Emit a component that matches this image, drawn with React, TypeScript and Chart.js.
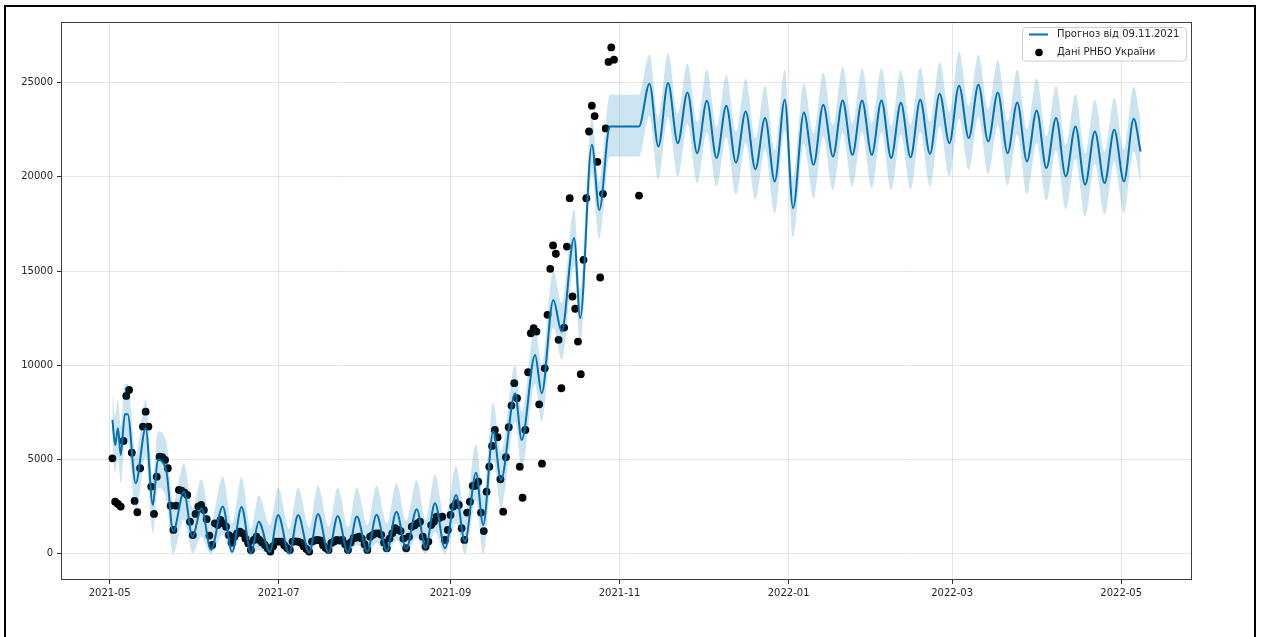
import React, { useEffect, useRef } from 'react';
import { Chart, registerables } from 'chart.js';

Chart.register(...registerables);

// Day offsets are counted from 2021-05-01 (UTC).
const EPOCH = Date.UTC(2021, 4, 1);
const dayOf = (iso: string) => (Date.parse(iso + 'T00:00:00Z') - EPOCH) / 86400000;

// Axis ranges and ticks
const xRange = [-17.55, 390.55];
const yRange = [-1397, 28221];
const xTickDates = ['2021-05-01', '2021-07-01', '2021-09-01', '2021-11-01', '2022-01-01', '2022-03-01', '2022-05-01'];
const xTickLabels = ['2021-05', '2021-07', '2021-09', '2021-11', '2022-01', '2022-03', '2022-05'];
const yTickValues = [0, 5000, 10000, 15000, 20000, 25000];

// Legend entries
const legendLabels = ['Прогноз від 09.11.2021', 'Дані РНБО України'];

// Daily reported cases, one value per day from casesStartDate
const casesStartDate = '2021-05-02';
const dailyCases = [
  5060, 2760, 2640, 2500, 5985, 8375, 8690, 5360, 2800, 2200,
  4535, 6745, 7540, 6745, 3560, 2110, 4090, 5150, 5120, 4975,
  4535, 2550, 1260, 2550, 3380, 3350, 3240, 3120, 1700, 990,
  2110, 2500, 2590, 2320, 1830, 960, 460, 1610, 1520, 1790,
  1610, 1430, 990, 580, 900, 1080, 1170, 1080, 800, 550,
  200, 730, 900, 730, 600, 460, 290, 110, 400, 640,
  640, 640, 450, 300, 200, 640, 650, 640, 580, 400,
  250, 110, 640, 700, 730, 700, 450, 300, 200, 570,
  650, 730, 700, 730, 500, 200, 600, 820, 850, 900,
  800, 500, 200, 900, 1000, 1080, 1080, 1000, 600, 290,
  800, 1080, 1350, 1260, 1200, 800, 290, 900, 1430, 1500,
  1610, 1700, 900, 370, 640, 1520, 1700, 1960, 1900, 1965,
  728, 1260, 2055, 2500, 2680, 2590, 1350, 728, 2180, 2760,
  3600, 3600, 3820, 2180, 1200, 3290, 4620, 5720, 6570, 6180,
  3950, 2230, 5120, 6710, 7860, 9050, 8250, 4620, 2970, 6570,
  9630, 11700, 11970, 11790, 7930, 4780, 9840, 12680, 15120, 16360,
  15920, 11350, 8780, 12000, 16300, 18870, 13650, 13000, 11260, 9530,
  15600, 18870, 22410, 23780, 23230, 20800, 14660, 19100, 22570, 26100,
  26870, 26220,
];
const lateReportDate = '2021-11-08';
const lateReportCases = 19010;

// Forecast turning points (weekly lows and highs), days since 2021-05-01
const forecastDays = [
  1, 2, 3, 4, 5.5, 6.5,
  9.4, 13, 15.6, 17.4, 20.5,
  22.9, 26.8, 29.9, 33.1, 36.6, 40.8,
  44.2, 47.6, 51, 53.8, 57.8, 60.8,
  64.8, 68, 72, 75.2, 79, 82.3,
  86, 89.2, 93, 96.3, 100, 103.5,
  107, 110.8, 114, 117.4, 121, 125,
  128.2, 132.2, 134.8, 138.4, 141.2, 146.3,
  148.7, 153.5, 155.9, 160.1, 163.1, 167.6,
  169.8, 174, 176.7, 180.5, 191,
  194.8, 198, 201.5, 205, 208.5, 212, 215.5, 219, 222.5, 226,
  229.5, 233, 236.5, 240, 243.6, 246.6, 250.5, 254, 257.5, 261,
  264.5, 268, 271.5, 275, 278.5, 282, 285.5, 289, 292.5, 296,
  299.5, 303, 306.5, 310, 313.5, 317, 320.5, 324, 327.5, 331,
  334.5, 338, 341.5, 345, 348.5, 352, 355.5, 359, 362.5, 366,
  369.5, 372,
];
const forecastMid = [
  7100, 5770, 6660, 5240, 7400, 7400,
  3740, 6660, 2590, 4980, 4355,
  1170, 3290, 900, 2410, 200, 2500,
  100, 2480, 0, 1700, 100, 2050,
  0, 2050, 50, 2100, 50, 2000,
  50, 1970, 100, 2060, 150, 2230,
  250, 2360, 300, 2680, 290, 3120,
  640, 4300, 1520, 6480, 3910, 8520,
  6040, 10550, 8520, 13470, 11790, 16750,
  12500, 21700, 18240, 22680, 22680,
  24950, 21610, 24980, 21790, 24480, 21260, 24040, 21000, 23780, 20760,
  23470, 20410, 23120, 19760, 24090, 18340, 23420, 20640, 23830, 21080,
  24060, 21170, 24060, 21170, 24060, 21000, 23930, 21040, 24090, 21220,
  24410, 21790, 24840, 22060, 24890, 21880, 24480, 21260, 23950, 20820,
  23530, 20470, 23120, 20020, 22680, 19580, 22410, 19670, 22500, 19760,
  23080, 21350,
];
const forecastLow = [
  5600, 4270, 5150, 3700, 5900, 5900,
  2230, 5150, 1100, 3480, 2850,
  0, 1800, 0, 900, 0, 1000,
  0, 950, 0, 200, 0, 550,
  0, 550, 0, 600, 0, 500,
  0, 450, 0, 550, 0, 700,
  0, 850, 0, 1150, 0, 1600,
  0, 2800, 0, 5000, 2400, 7000,
  4500, 9000, 7000, 12000, 10300, 15250,
  11000, 20200, 16700, 21080, 21080,
  23250, 19850, 23210, 20020, 22800, 19670, 22350, 19490, 22100, 19050,
  21800, 18820, 21450, 18080, 22450, 16830, 21750, 18870, 22150, 19310,
  22350, 19490, 22380, 19400, 22380, 19300, 22250, 19350, 22400, 19500,
  22700, 20050, 23100, 20350, 23200, 20150, 22750, 19550, 22250, 19100,
  21800, 18750, 21400, 18300, 20950, 17900, 20700, 17990, 20800, 18080,
  21350, 19670,
];
const forecastHigh = [
  8600, 7300, 8200, 6750, 9000, 9000,
  5250, 8160, 4100, 6500, 5900,
  2700, 4800, 2450, 3950, 1750, 4090,
  1600, 4050, 1300, 3100, 1500, 3500,
  1300, 3500, 1400, 3600, 1400, 3500,
  1400, 3500, 1500, 3600, 1600, 3750,
  1750, 3900, 1800, 4200, 1800, 4650,
  2150, 5800, 3050, 8000, 5400, 10000,
  7550, 12050, 10000, 15000, 13300, 18250,
  14000, 23200, 19750, 24360, 24360,
  26500, 23150, 26570, 23350, 26000, 22900, 25690, 22650, 25420, 22400,
  25190, 22050, 24840, 21400, 25690, 20000, 24980, 22300, 25530, 22750,
  25860, 22850, 25760, 22850, 25760, 22700, 25650, 22750, 25800, 22900,
  26100, 23450, 26660, 23750, 26480, 23600, 26200, 22950, 25700, 22500,
  25250, 22150, 24850, 21700, 24400, 21250, 24100, 21350, 24200, 21450,
  24800, 23050,
];

const LINE_BLUE = '#0072B2';
const BAND_BLUE = 'rgba(0, 114, 178, 0.2)';
const FONT = '"DejaVu Sans", "Liberation Sans", sans-serif';
const TEXT = '#262626';

const toPoints = (ys: number[]) => forecastDays.map((d, i) => ({ x: d, y: ys[i] }));

const overlayPlugin = {
  id: 'axesFrameAndLegend',
  afterDraw(chart: any) {
    const { ctx, chartArea: a } = chart;
    ctx.save();
    // four spines around the plotting area
    ctx.strokeStyle = '#3c3c3c';
    ctx.lineWidth = 1;
    ctx.strokeRect(Math.round(a.left) + 0.5, Math.round(a.top) + 0.5,
      Math.round(a.right - a.left) - 1, Math.round(a.bottom - a.top) - 1);

    // legend box in the upper right corner
    ctx.font = `10px ${FONT}`;
    const tw = Math.max(...legendLabels.map((t) => ctx.measureText(t).width));
    const w = Math.max(164, 34.5 + tw + 4);
    const right = Math.round(a.right) - 5.5;
    const top = Math.round(a.top) + 5.5;
    const left = right - w;
    const h = 33.5;
    ctx.beginPath();
    (ctx as any).roundRect(left, top, w, h, 3);
    ctx.fillStyle = 'rgba(255,255,255,0.85)';
    ctx.fill();
    ctx.strokeStyle = '#cccccc';
    ctx.stroke();

    const row1 = top + 7;
    const row2 = top + 25;
    ctx.strokeStyle = LINE_BLUE;
    ctx.lineWidth = 2;
    ctx.beginPath();
    ctx.moveTo(left + 6.5, row1);
    ctx.lineTo(left + 25.5, row1);
    ctx.stroke();
    ctx.fillStyle = '#000';
    ctx.beginPath();
    ctx.arc(left + 16.5, row2, 3.8, 0, Math.PI * 2);
    ctx.fill();

    ctx.fillStyle = TEXT;
    ctx.textBaseline = 'middle';
    ctx.textAlign = 'left';
    ctx.fillText(legendLabels[0], left + 34.5, row1);
    ctx.fillText(legendLabels[1], left + 34.5, row2);
    ctx.restore();
  },
};

export default function App() {
  const canvasRef = useRef<HTMLCanvasElement>(null);

  useEffect(() => {
    const start = dayOf(casesStartDate);
    const casePoints = dailyCases
      .map((v, i) => ({ x: start + i, y: v }))
      .concat([{ x: dayOf(lateReportDate), y: lateReportCases }]);
    const xTicks = xTickDates.map(dayOf);

    const chart = new Chart(canvasRef.current as HTMLCanvasElement, {
      type: 'line',
      data: {
        datasets: [
          {
            label: 'upper',
            data: toPoints(forecastHigh),
            borderColor: 'rgba(0,0,0,0)',
            borderWidth: 0,
            backgroundColor: BAND_BLUE,
            pointRadius: 0,
            fill: '+1',
            cubicInterpolationMode: 'monotone',
            order: 0,
          },
          {
            label: 'lower',
            data: toPoints(forecastLow),
            borderColor: 'rgba(0,0,0,0)',
            borderWidth: 0,
            pointRadius: 0,
            fill: false,
            cubicInterpolationMode: 'monotone',
            order: 0,
          },
          {
            label: legendLabels[0],
            data: toPoints(forecastMid),
            borderColor: LINE_BLUE,
            borderWidth: 2,
            pointRadius: 0,
            fill: false,
            cubicInterpolationMode: 'monotone',
            order: 1,
          },
          {
            type: 'scatter',
            label: legendLabels[1],
            data: casePoints,
            backgroundColor: '#000',
            borderWidth: 0,
            pointRadius: 3.9,
            order: 2,
          } as any,
        ],
      },
      options: {
        responsive: false,
        devicePixelRatio: 1,
        animation: false,
        events: [],
        layout: { padding: { top: 22, right: 71, bottom: 0, left: 0 } },
        plugins: {
          legend: { display: false },
          tooltip: { enabled: false },
        },
        scales: {
          x: {
            type: 'linear',
            min: xRange[0],
            max: xRange[1],
            afterBuildTicks: (s: any) => {
              s.ticks = xTicks.map((v) => ({ value: v }));
            },
            afterFit: (s: any) => {
              s.height = 57;
            },
            ticks: {
              autoSkip: false,
              maxRotation: 0,
              padding: 3,
              color: TEXT,
              font: { family: FONT, size: 10 },
              callback: (_v: any, i: number) => xTickLabels[i],
            },
            grid: {
              color: 'rgba(128,128,128,0.2)',
              lineWidth: 1,
              tickColor: '#333',
              tickLength: 4,
            },
            border: { display: false },
          },
          y: {
            type: 'linear',
            min: yRange[0],
            max: yRange[1],
            afterBuildTicks: (s: any) => {
              s.ticks = yTickValues.map((v) => ({ value: v }));
            },
            afterFit: (s: any) => {
              s.width = 61;
            },
            ticks: {
              padding: 4,
              color: TEXT,
              font: { family: FONT, size: 10 },
              callback: (v: any) => String(v),
            },
            grid: {
              color: 'rgba(128,128,128,0.2)',
              lineWidth: 1,
              tickColor: '#333',
              tickLength: 4,
            },
            border: { display: false },
          },
        },
      },
      plugins: [overlayPlugin],
    } as any);

    return () => chart.destroy();
  }, []);

  return (
    <div
      style={{
        position: 'absolute',
        left: 0,
        top: 0,
        width: 1263,
        height: 637,
        overflow: 'hidden',
        background: '#fff',
      }}
    >
      <div
        style={{
          position: 'absolute',
          left: 4,
          top: 5,
          width: 1248,
          height: 700,
          border: '2px solid #000',
        }}
      />
      <canvas
        ref={canvasRef}
        width={1263}
        height={637}
        style={{ position: 'absolute', left: 0, top: 0, width: 1263, height: 637 }}
      />
    </div>
  );
}
